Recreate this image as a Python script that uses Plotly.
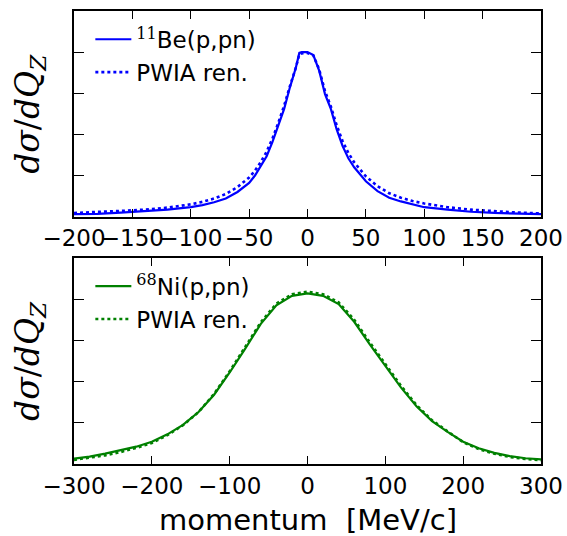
import plotly.graph_objects as go
from plotly.subplots import make_subplots

# ---- 11Be(p,pn): momentum distribution (arbitrary units) ----
be_p = [-200, -180, -160, -140, -120, -100, -90, -80, -70, -60, -50, -45, -40, -35,
        -30, -25, -20, -15, -10, -7, -5, 0, 5, 10, 15, 20, 25, 30, 35, 40, 45, 50,
        60, 70, 80, 90, 100, 120, 140, 160, 180, 200]
be_calc = [0.06, 0.07, 0.10, 0.13, 0.17, 0.23, 0.28, 0.35, 0.44, 0.60, 0.82, 1.00, 1.22, 1.47,
           1.82, 2.20, 2.62, 3.15, 3.62, 3.98, 4.00, 4.00, 3.93, 3.55, 2.98, 2.62, 2.12, 1.72,
           1.42, 1.20, 1.02, 0.86, 0.62, 0.46, 0.37, 0.30, 0.23, 0.17, 0.12, 0.09, 0.07, 0.06]
be_pwia = [0.09, 0.11, 0.14, 0.17, 0.22, 0.30, 0.36, 0.44, 0.55, 0.72, 0.95, 1.12, 1.33, 1.58,
           1.90, 2.28, 2.70, 3.18, 3.62, 3.95, 3.97, 3.98, 3.92, 3.58, 3.05, 2.68, 2.22, 1.84,
           1.55, 1.32, 1.14, 0.98, 0.74, 0.57, 0.46, 0.38, 0.32, 0.23, 0.17, 0.13, 0.10, 0.08]

# ---- 68Ni(p,pn): momentum distribution (arbitrary units) ----
ni_p = [-300, -280, -260, -240, -220, -200, -180, -160, -140, -120, -100, -80, -60, -40, -20,
        0, 20, 40, 60, 80, 100, 120, 140, 160, 180, 200, 220, 240, 260, 280, 300]
ni_calc = [0.13, 0.18, 0.25, 0.33, 0.42, 0.54, 0.72, 0.95, 1.26, 1.68, 2.22, 2.80, 3.40, 3.85,
           4.08, 4.14, 4.08, 3.88, 3.45, 2.90, 2.38, 1.86, 1.40, 1.04, 0.78, 0.54, 0.38, 0.27,
           0.19, 0.14, 0.11]
ni_pwia = [0.10, 0.15, 0.21, 0.29, 0.39, 0.51, 0.70, 0.94, 1.26, 1.70, 2.25, 2.84, 3.44, 3.89,
           4.12, 4.18, 4.12, 3.92, 3.50, 2.95, 2.43, 1.90, 1.43, 1.06, 0.79, 0.53, 0.36, 0.25,
           0.17, 0.12, 0.09]

be_ticks = [-200, -150, -100, -50, 0, 50, 100, 150, 200]
ni_ticks = [-300, -200, -100, 0, 100, 200, 300]
y_ticks = [1, 2, 3, 4]

BLUE = "#0000ff"
GREEN = "#008000"
SUP = '<span style="font-family:\'DejaVu Serif\'">'

TOP_DOMAIN = [0.546, 1.0]
BOTTOM_DOMAIN = [0.0, 0.455]

fig = make_subplots(rows=2, cols=1, vertical_spacing=0.09)

fig.add_trace(go.Scatter(x=be_p, y=be_calc, mode="lines",
                         line=dict(color=BLUE, width=2.2),
                         name=f"{SUP}<sup>11</sup></span>Be(p,pn)", legend="legend"),
              row=1, col=1)
fig.add_trace(go.Scatter(x=be_p, y=be_pwia, mode="lines",
                         line=dict(color=BLUE, width=2.6, dash="dot"),
                         name="PWIA ren.", legend="legend"), row=1, col=1)
fig.add_trace(go.Scatter(x=ni_p, y=ni_calc, mode="lines",
                         line=dict(color=GREEN, width=2.2),
                         name=f"{SUP}<sup>68</sup></span>Ni(p,pn)", legend="legend2"),
              row=2, col=1)
fig.add_trace(go.Scatter(x=ni_p, y=ni_pwia, mode="lines",
                         line=dict(color=GREEN, width=2.6, dash="dot"),
                         name="PWIA ren.", legend="legend2"), row=2, col=1)

axis_style = dict(showline=True, linecolor="black", linewidth=1.8, mirror="allticks",
                  ticks="inside", tickwidth=1.3, tickcolor="black",
                  showgrid=False, zeroline=False, tickangle=0, automargin=False,
                  tickfont=dict(family="DejaVu Sans", size=23, color="black"))

fig.update_xaxes(axis_style, ticklen=8)
fig.update_yaxes(axis_style, ticklen=10)
fig.update_xaxes(range=[-200, 200], tickvals=be_ticks, ticklabeloverflow="allow",
                 domain=[0, 1], row=1, col=1)
fig.update_xaxes(range=[-300, 300], tickvals=ni_ticks, ticklabeloverflow="allow",
                 domain=[0, 1], row=2, col=1)
fig.update_yaxes(range=[0, 5], tickvals=y_ticks, showticklabels=False,
                 domain=TOP_DOMAIN, row=1, col=1)
fig.update_yaxes(range=[0, 5], tickvals=y_ticks, showticklabels=False,
                 domain=BOTTOM_DOMAIN, row=2, col=1)

# axis titles
ytitle_text = "<i>dσ</i>/<i>dQ</i><sub><i>Z</i></sub>"
ytitle_font = dict(family="DejaVu Serif", size=33, color="black")
for dom in (TOP_DOMAIN, BOTTOM_DOMAIN):
    fig.add_annotation(text=ytitle_text, xref="paper", yref="paper",
                       x=0, y=(dom[0] + dom[1]) / 2, xshift=-44,
                       xanchor="center", yanchor="middle", textangle=-90,
                       showarrow=False, font=ytitle_font)
fig.add_annotation(text="momentum  [MeV/c]", xref="paper", yref="paper",
                   x=0.5, y=0, yshift=-56, xanchor="center", yanchor="middle",
                   showarrow=False,
                   font=dict(family="DejaVu Sans", size=29, color="black"))

legend_style = dict(x=0.035, xanchor="left", yanchor="top", bgcolor="rgba(0,0,0,0)",
                    borderwidth=0, itemwidth=36,
                    font=dict(family="DejaVu Sans", size=23, color="black"))

fig.update_layout(
    width=567, height=536,
    margin=dict(l=74, r=26, t=11, b=72),
    plot_bgcolor="white", paper_bgcolor="white",
    legend=dict(legend_style, y=0.985),
    legend2=dict(legend_style, y=0.44),
)

fig.write_html("out.html")
